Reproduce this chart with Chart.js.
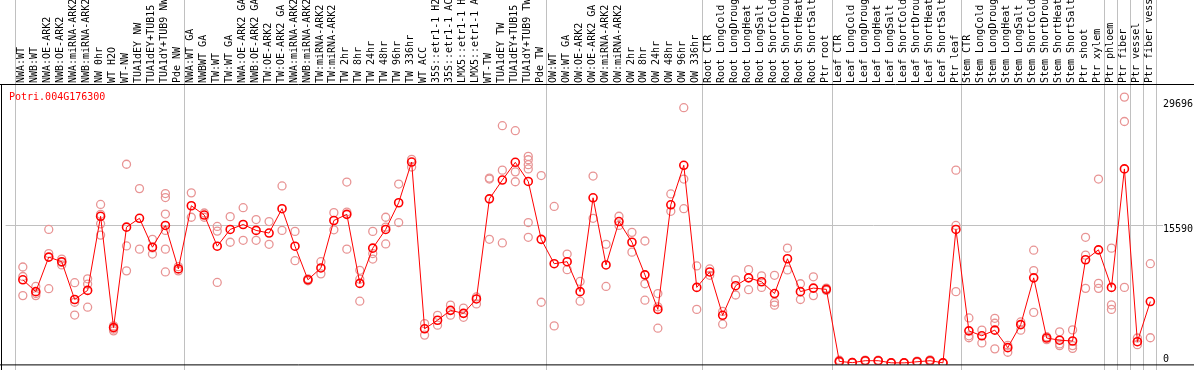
<!DOCTYPE html>
<html>
<head>
<meta charset="utf-8">
<script src="https://cdn.jsdelivr.net/npm/chart.js@4.4.0/dist/chart.umd.min.js"></script>
<style>
    html, body { margin: 0; padding: 0; background: #fff; }
    #grafico { display: block; }
</style>
</head>
<body>
<canvas id="grafico" width="1194" height="370"></canvas>
<script>
const geneName = 'Potri.004G176300';

const categories = [
    'NWA:WT', 'NWB:WT', 'NWA:OE-ARK2', 'NWB:OE-ARK2', 'NWA:miRNA-ARK2', 'NWB:miRNA-ARK2',
    'NW 0hr', 'WT H2O', 'WT-NW', 'TUA1dEY NW', 'TUA1dEY+TUB15 NW', 'TUA1dY+TUB9 NW', 'Pde NW',
    'NWA:WT GA', 'NWBWT GA', 'TW:WT', 'TW:WT GA', 'NWA:OE-ARK2 GA', 'NWB:OE-ARK2 GA',
    'TW:OE-ARK2', 'TW:OE-ARK2 GA', 'NWA:miRNA-ARK2 GA', 'NWB:miRNA-ARK2 GA', 'TW:miRNA-ARK2',
    'TW:miRNA-ARK2 GA', 'TW 2hr', 'TW 8hr', 'TW 24hr', 'TW 48hr', 'TW 96hr', 'TW 336hr',
    'WT ACC', '35S::etr1-1 H2O', '35S::etr1-1 ACC', 'LMX5::etr1-1 H2O', 'LMX5::etr1-1 ACC',
    'WT-TW', 'TUA1dEY TW', 'TUA1dEY+TUB15 TW', 'TUA1dY+TUB9 TW', 'Pde TW',
    'OW:WT', 'OW:WT GA', 'OW:OE-ARK2', 'OW:OE-ARK2 GA', 'OW:miRNA-ARK2', 'OW:miRNA-ARK2 GA',
    'OW 2hr', 'OW 8hr', 'OW 24hr', 'OW 48hr', 'OW 96hr', 'OW 336hr',
    'Root CTR', 'Root LongCold', 'Root LongDrought', 'Root LongHeat', 'Root LongSalt',
    'Root ShortCold', 'Root ShortDrought', 'Root ShortHeat', 'Root ShortSalt', 'Ptr root',
    'Leaf CTR', 'Leaf LongCold', 'Leaf LongDrought', 'Leaf LongHeat', 'Leaf LongSalt',
    'Leaf ShortCold', 'Leaf ShortDrought', 'Leaf ShortHeat', 'Leaf ShortSalt', 'Ptr leaf',
    'Stem CTR', 'Stem LongCold', 'Stem LongDrought', 'Stem LongHeat', 'Stem LongSalt',
    'Stem ShortCold', 'Stem ShortDrought', 'Stem ShortHeat', 'Stem ShortSalt', 'Ptr shoot',
    'Ptr xylem', 'Ptr phloem', 'Ptr fiber', 'Ptr vessel', 'Ptr fiber vessel'
];

// media de cada condicao
const meanValues = [
    9410, 8070, 11980, 11460, 7180, 8210, 16600, 4000, 15370, 16370, 13100, 15560, 10640,
    17790, 16740, 13210, 15110, 15670, 15000, 14700, 17460, 13210, 9410, 10750, 16120,
    16820, 9000, 12990, 15110, 18130, 22740, 3860, 4830, 5950, 5610, 7240, 18570, 20700,
    22710, 20540, 13990,
    11230, 11460, 8070, 18690, 11090, 16000, 13660, 9970, 6060, 17900, 22370, 8550,
    10300, 5390, 8740, 9630, 9190, 7850, 11790, 8070, 8470, 8330,
    170, 30, 250, 250, 10, 5, 130, 250, 10, 15110,
    3630, 3070, 3710, 1730, 4340, 9630, 2820, 2570, 2480, 11680, 12800,
    8550, 21960, 2400, 6950
];

// replicas de cada condicao
const replicateValues = [
    [10860, 9780, 7620], [8660, 7850, 7620], [15110, 12380, 8400], [11760, 11380, 11090],
    [9080, 6870, 5420], [9520, 8920, 6310], [17940, 16820, 15740, 14470], [4190, 3820, 3630],
    [22490, 13240, 10420], [19730, 12880], [13990, 13020, 12320],
    [19170, 18720, 16850, 15000, 12880, 10300], [10900, 10420],
    [19250, 16490], [16970, 16490], [15450, 14920, 9110], [16560, 13660], [17570, 13880],
    [16230, 13880], [16000, 13430], [20030, 15000], [14890, 11570], [9520, 9300],
    [11460, 10080], [17010, 15070], [20470, 17080, 12880], [10480, 9480, 6990],
    [14890, 12380, 11760], [16490, 15370, 13470], [20250, 15890], [23050, 22180],
    [4450, 3150], [5390, 4270], [6540, 5400], [6200, 5160], [7470, 6680],
    [20920, 20810, 13990], [26850, 21820, 13580], [26290, 21630, 20510],
    [23380, 23000, 22440, 21960, 15890, 14220], [21210, 6870],
    [17710, 4190], [12320, 10560], [9220, 6990], [21150, 16370], [13430, 8660],
    [16600, 15560], [14780, 12540], [13800, 8960, 7100], [7850, 6350, 3930],
    [19130, 17160], [28890, 20810, 17460], [10980, 6060],
    [10640, 9920], [5830, 4380], [9410, 7690], [10560, 8290], [9860, 8550],
    [9920, 6870, 6540], [12990, 10530], [8960, 7180], [9750, 7620], [8470, 8210],
    [300, 120, 90], [60, 10], [320, 180], [300, 200], [20, 5], [10, 0], [200, 60],
    [350, 150], [20, 0], [21820, 15560, 8070],
    [5090, 3070, 2850], [3710, 2260], [5050, 4490, 1590], [1990, 1210], [4640, 3710],
    [12760, 10450, 5720], [2960, 2630], [3520, 2150, 1960], [3740, 1960, 1650],
    [14220, 12200, 8440], [20810, 9000, 8440],
    [12990, 6570, 6060], [30090, 27330, 8550], [2820, 2070], [11230, 2850]
];

const axisTicks = [0, 15590, 29696];
const groupStarts = [0, 13, 41, 53, 63, 73, 84, 85, 86, 87, 88];

const fonteMono = 'DejaVu Sans Mono';

const pontosMedia = meanValues.map((v, i) => ({ x: i, y: v }));
const pontosReplicas = [];
replicateValues.forEach((reps, i) => {
    reps.forEach(v => pontosReplicas.push({ x: i, y: v }));
});

// linhas de grupo, bordas, rotulos do eixo direito e nome do gene
const moldura = {
    id: 'moldura',
    beforeDatasetsDraw(chart) {
        const { ctx, chartArea, scales } = chart;
        ctx.save();
        ctx.strokeStyle = '#c0c0c0';
        ctx.lineWidth = 1;
        groupStarts.forEach(g => {
            const x = Math.round(scales.x.getPixelForValue(g - 0.6)) + 0.5;
            ctx.beginPath();
            ctx.moveTo(x, 0);
            ctx.lineTo(x, chart.height);
            ctx.stroke();
        });
        const yMeio = Math.round(scales.y.getPixelForValue(axisTicks[1])) + 0.5;
        ctx.beginPath();
        ctx.moveTo(chartArea.left, yMeio);
        ctx.lineTo(chartArea.right + 1, yMeio);
        ctx.stroke();
        ctx.restore();
    },
    afterDatasetsDraw(chart) {
        const { ctx, chartArea, scales } = chart;
        ctx.save();
        ctx.strokeStyle = '#000';
        ctx.lineWidth = 1;
        ctx.beginPath();
        ctx.moveTo(0, chartArea.top - 0.5);
        ctx.lineTo(chart.width, chartArea.top - 0.5);
        ctx.moveTo(1.5, chartArea.top - 0.5);
        ctx.lineTo(1.5, chart.height);
        ctx.moveTo(0, chartArea.bottom + 0.5);
        ctx.lineTo(chart.width, chartArea.bottom + 0.5);
        ctx.stroke();

        ctx.font = '10px "' + fonteMono + '"';
        ctx.fillStyle = '#000';
        ctx.textAlign = 'left';
        axisTicks.forEach(t => {
            const y = scales.y.getPixelForValue(t);
            if (t === 0) {
                ctx.textBaseline = 'alphabetic';
                ctx.fillText(String(t), chartArea.right + 1, y - 1);
            } else {
                ctx.textBaseline = 'top';
                ctx.fillText(String(t), chartArea.right + 1, y - 1);
            }
        });

        ctx.fillStyle = '#ff0000';
        ctx.textBaseline = 'alphabetic';
        ctx.fillText(geneName, 9, chartArea.top + 15);
        ctx.restore();
    }
};

const ctx = document.getElementById('grafico').getContext('2d');
window.graficoExpressao = new Chart(ctx, {
    type: 'line',
    data: {
        datasets: [
            {
                label: 'media',
                data: pontosMedia,
                borderColor: '#ff0000',
                borderWidth: 1,
                pointRadius: 4,
                pointBorderWidth: 1.6,
                pointBorderColor: '#ff0000',
                pointBackgroundColor: 'rgba(0,0,0,0)',
                tension: 0,
                order: 0
            },
            {
                label: 'replicas',
                data: pontosReplicas,
                showLine: false,
                pointRadius: 4,
                pointBorderWidth: 1.3,
                pointBorderColor: '#e89494',
                pointBackgroundColor: 'rgba(0,0,0,0)',
                order: 1
            }
        ]
    },
    options: {
        responsive: false,
        animation: false,
        devicePixelRatio: 1,
        layout: { padding: { left: 2, right: 32, top: 0, bottom: 1 } },
        scales: {
            x: {
                type: 'linear',
                position: 'top',
                min: -1.33,
                max: 87.9,
                afterBuildTicks: axis => {
                    axis.ticks = categories.map((c, i) => ({ value: i }));
                },
                afterFit: scale => {
                    scale.height = 85;
                    scale.paddingLeft = 0;
                    scale.paddingRight = 0;
                },
                grid: { display: false, drawTicks: false },
                border: { display: false },
                ticks: {
                    autoSkip: false,
                    minRotation: 90,
                    maxRotation: 90,
                    padding: 2,
                    labelOffset: 11,
                    color: '#000',
                    font: { family: fonteMono, size: 10 },
                    callback: value => categories[Math.round(value)]
                }
            },
            y: {
                display: false,
                min: -168,
                max: 31460
            }
        },
        plugins: {
            legend: { display: false },
            tooltip: { enabled: false }
        }
    },
    plugins: [moldura]
});
</script>
</body>
</html>
